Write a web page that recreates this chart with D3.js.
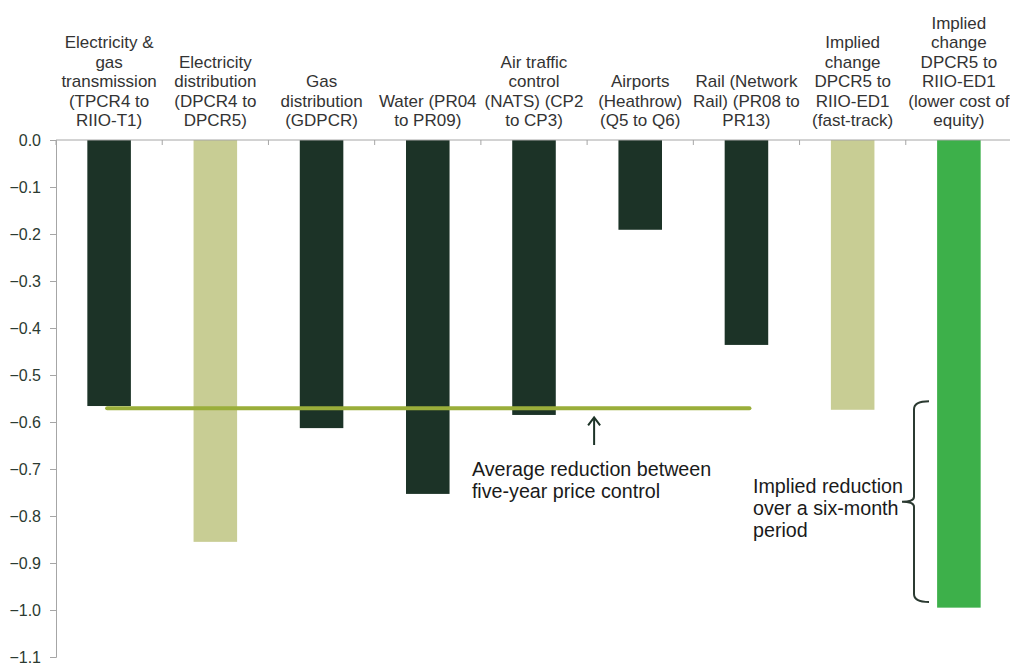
<!DOCTYPE html>
<html><head><meta charset="utf-8">
<script src="https://cdn.jsdelivr.net/npm/d3@7"></script>
<style>body{margin:0;background:#fff}svg{display:block;font-family:"Liberation Sans",Arial,sans-serif}</style>
</head><body><svg id="c" width="1010" height="664"></svg>
<script>
const categories = [
  ["Electricity &","gas","transmission","(TPCR4 to","RIIO-T1)"],
  ["Electricity","distribution","(DPCR4 to","DPCR5)"],
  ["Gas","distribution","(GDPCR)"],
  ["Water (PR04","to PR09)"],
  ["Air traffic","control","(NATS) (CP2","to CP3)"],
  ["Airports","(Heathrow)","(Q5 to Q6)"],
  ["Rail (Network","Rail) (PR08 to","PR13)"],
  ["Implied","change","DPCR5 to","RIIO-ED1","(fast-track)"],
  ["Implied","change","DPCR5 to","RIIO-ED1","(lower cost of","equity)"]
];
const values = [-0.566, -0.855, -0.613, -0.753, -0.585, -0.191, -0.436, -0.574, -0.995];
const barTypes = ["dark","light","dark","dark","dark","dark","dark","light","green"];
const yTicks = [0,-0.1,-0.2,-0.3,-0.4,-0.5,-0.6,-0.7,-0.8,-0.9,-1.0,-1.1];
const averageValue = -0.571;
const bracketRange = [-0.556, -0.983];
const avgLabel = ["Average reduction between","five-year price control"];
const bracketLabel = ["Implied reduction","over a six-month","period"];

const colors = {dark:"#1c3327", light:"#c8cd94", green:"#3db04a"};
const svg = d3.select("#c");
const ids = categories.map((d,i)=>i);
const x = d3.scaleBand().domain(ids).range([56,1012]).padding(0);
const y = d3.scaleLinear().domain([0,-1.1]).range([140,657]);
const bw = x.bandwidth();

// bars
svg.append("g").selectAll("rect").data(values).join("rect")
  .attr("x",(d,i)=>x(i)+bw*0.295)
  .attr("width",bw*0.41)
  .attr("y",y(0))
  .attr("height",d=>y(d)-y(0))
  .attr("fill",(d,i)=>colors[barTypes[i]]);

// y axis
const yAxis = d3.axisLeft(y).tickValues(yTicks).tickFormat(d3.format(".1f")).tickSize(6).tickPadding(9);
const ga = svg.append("g").attr("transform","translate(56,0)").call(yAxis);
ga.select(".domain").attr("stroke","#a6a6a6");
ga.selectAll(".tick line").attr("stroke","#a6a6a6");
ga.selectAll(".tick text").attr("fill","#2b3a31").attr("font-size",16).attr("font-family","Liberation Sans, Arial, sans-serif");

// x axis at zero
const gx = svg.append("g");
gx.append("line").attr("x1",56).attr("x2",1012).attr("y1",y(0)).attr("y2",y(0)).attr("stroke","#a6a6a6");
gx.selectAll("line.t").data(d3.range(categories.length+1)).join("line").attr("class","t")
  .attr("x1",i=>56+i*bw).attr("x2",i=>56+i*bw).attr("y1",y(0)).attr("y2",y(0)+5).attr("stroke","#a6a6a6");

// category labels
const lh = 19.4;
categories.forEach((lines,i)=>{
  const t = svg.append("text").attr("text-anchor","middle").attr("font-size",17).attr("fill","#333");
  const n = lines.length;
  lines.forEach((l,j)=>{
    t.append("tspan").attr("x",x(i)+bw/2).attr("y",126-(n-1-j)*lh).text(l);
  });
});

// average line
svg.append("line")
  .attr("x1",x(0)+bw/2-2).attr("x2",x(6)+bw/2+3)
  .attr("y1",y(averageValue)).attr("y2",y(averageValue))
  .attr("stroke","#9aae3a").attr("stroke-width",4).attr("stroke-linecap","round");

// arrow
const ax = x(5)+7;
svg.append("line").attr("x1",ax).attr("x2",ax).attr("y1",y(averageValue)+10).attr("y2",445)
  .attr("stroke","#1c3327").attr("stroke-width",2);
svg.append("path").attr("d",`M${ax-6},${y(averageValue)+17} L${ax},${y(averageValue)+9} L${ax+6},${y(averageValue)+17}`)
  .attr("fill","none").attr("stroke","#1c3327").attr("stroke-width",2);

// avg text
const at = svg.append("text").attr("font-size",19.7).attr("fill","#1a1a1a");
avgLabel.forEach((l,j)=>at.append("tspan").attr("x",x(4)-9).attr("y",476+j*22).text(l));

// bracket
const bt = y(bracketRange[0]), bb = y(bracketRange[1]), bm = (bt+bb)/2;
const bxv = 914, bxr = 929, bxl = 902;
svg.append("path")
  .attr("d",`M${bxr},${bt} Q${bxv},${bt} ${bxv},${bt+8} L${bxv},${bm-5} Q${bxv},${bm} ${bxl},${bm} Q${bxv},${bm} ${bxv},${bm+5} L${bxv},${bb-8} Q${bxv},${bb} ${bxr},${bb}`)
  .attr("fill","none").attr("stroke","#2b3a31").attr("stroke-width",2);

const bl = svg.append("text").attr("font-size",19.7).attr("fill","#1a1a1a");
bracketLabel.forEach((l,j)=>bl.append("tspan").attr("x",753).attr("y",493+j*22).text(l));
</script></body></html>
